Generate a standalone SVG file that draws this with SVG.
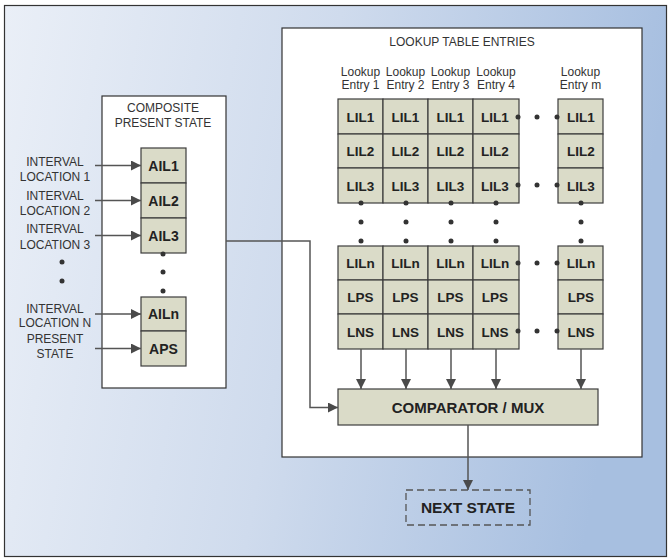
<svg xmlns="http://www.w3.org/2000/svg" width="668" height="559" viewBox="0 0 668 559">
<defs>
<linearGradient id="bg" x1="0" y1="0" x2="1" y2="0.15">
<stop offset="0" stop-color="#eaeff7"/>
<stop offset="0.5" stop-color="#cfdbed"/>
<stop offset="1" stop-color="#a7bfe0"/>
</linearGradient>
<marker id="ah" viewBox="0 0 10 10" refX="10" refY="5" markerWidth="11" markerHeight="10" markerUnits="userSpaceOnUse" orient="auto">
<path d="M0,0 L10,5 L0,10 z" fill="#4a4a4a"/>
</marker>
<style>
.lbl{font-family:"Liberation Sans",Arial,sans-serif;font-size:12px;fill:#333;text-anchor:middle}
.cell{fill:#dadbc8;stroke:#3c3c3c;stroke-width:1.2}
.ct{font-family:"Liberation Sans",Arial,sans-serif;font-size:13.5px;font-weight:bold;fill:#222;text-anchor:middle}
.at{font-family:"Liberation Sans",Arial,sans-serif;font-size:14px;font-weight:bold;fill:#222;text-anchor:middle}
.box{fill:#fff;stroke:#333;stroke-width:1.2}
.ln{fill:none;stroke:#555;stroke-width:1.5}
.dot{fill:#333}
</style>
</defs>
<rect x="4.5" y="5.5" width="662" height="551" fill="url(#bg)" stroke="#333" stroke-width="1.2"/>

<g id="composite">
<rect class="box" x="102" y="96" width="124" height="292"/>
<text class="lbl" x="163" y="112">COMPOSITE</text>
<text class="lbl" x="163" y="127">PRESENT STATE</text>
<rect class="cell" x="141" y="148" width="45" height="35"/>
<rect class="cell" x="141" y="183" width="45" height="35"/>
<rect class="cell" x="141" y="218" width="45" height="35"/>
<text class="at" x="163.5" y="170.5">AIL1</text>
<text class="at" x="163.5" y="205.5">AIL2</text>
<text class="at" x="163.5" y="240.5">AIL3</text>
<circle class="dot" cx="163" cy="254" r="2.5"/>
<circle class="dot" cx="163" cy="272" r="2.5"/>
<circle class="dot" cx="163" cy="291" r="2.5"/>
<rect class="cell" x="141" y="297" width="45" height="34"/>
<rect class="cell" x="141" y="331" width="45" height="35"/>
<text class="at" x="163.5" y="319">AILn</text>
<text class="at" x="163.5" y="353.5">APS</text>
</g>

<g id="inputs">
<text class="lbl" x="55" y="166">INTERVAL</text>
<text class="lbl" x="55" y="181">LOCATION 1</text>
<text class="lbl" x="55" y="200">INTERVAL</text>
<text class="lbl" x="55" y="215">LOCATION 2</text>
<text class="lbl" x="55" y="233">INTERVAL</text>
<text class="lbl" x="55" y="249">LOCATION 3</text>
<circle class="dot" cx="62" cy="262" r="2.5"/>
<circle class="dot" cx="62" cy="281" r="2.5"/>
<text class="lbl" x="55" y="313">INTERVAL</text>
<text class="lbl" x="55" y="327">LOCATION N</text>
<text class="lbl" x="55" y="343">PRESENT</text>
<text class="lbl" x="55" y="358">STATE</text>
</g>

<g id="lookup">
<rect class="box" x="282" y="28" width="360" height="429"/>
<text class="lbl" x="462" y="46">LOOKUP TABLE ENTRIES</text>
<text class="lbl" x="360.5" y="76">Lookup</text>
<text class="lbl" x="360.5" y="89">Entry 1</text>
<text class="lbl" x="405.5" y="76">Lookup</text>
<text class="lbl" x="405.5" y="89">Entry 2</text>
<text class="lbl" x="450.5" y="76">Lookup</text>
<text class="lbl" x="450.5" y="89">Entry 3</text>
<text class="lbl" x="496" y="76">Lookup</text>
<text class="lbl" x="496" y="89">Entry 4</text>
<text class="lbl" x="580.5" y="76">Lookup</text>
<text class="lbl" x="580.5" y="89">Entry m</text>
</g>

<g id="table-upper">
<g id="col1u">
<rect class="cell" x="338" y="99" width="45" height="35"/><rect class="cell" x="338" y="134" width="45" height="34"/><rect class="cell" x="338" y="168" width="45" height="35"/>
<text class="ct" x="360.5" y="121.5">LIL1</text><text class="ct" x="360.5" y="156">LIL2</text><text class="ct" x="360.5" y="190.5">LIL3</text>
</g>
<g id="col2u">
<rect class="cell" x="383" y="99" width="45" height="35"/><rect class="cell" x="383" y="134" width="45" height="34"/><rect class="cell" x="383" y="168" width="45" height="35"/>
<text class="ct" x="405.5" y="121.5">LIL1</text><text class="ct" x="405.5" y="156">LIL2</text><text class="ct" x="405.5" y="190.5">LIL3</text>
</g>
<g id="col3u">
<rect class="cell" x="428" y="99" width="45" height="35"/><rect class="cell" x="428" y="134" width="45" height="34"/><rect class="cell" x="428" y="168" width="45" height="35"/>
<text class="ct" x="450.5" y="121.5">LIL1</text><text class="ct" x="450.5" y="156">LIL2</text><text class="ct" x="450.5" y="190.5">LIL3</text>
</g>
<g id="col4u">
<rect class="cell" x="473" y="99" width="46" height="35"/><rect class="cell" x="473" y="134" width="46" height="34"/><rect class="cell" x="473" y="168" width="46" height="35"/>
<text class="ct" x="495" y="121.5">LIL1</text><text class="ct" x="495" y="156">LIL2</text><text class="ct" x="495" y="190.5">LIL3</text>
</g>
<g id="colmu">
<rect class="cell" x="558" y="99" width="45" height="35"/><rect class="cell" x="558" y="134" width="45" height="34"/><rect class="cell" x="558" y="168" width="45" height="35"/>
<text class="ct" x="581" y="121.5">LIL1</text><text class="ct" x="581" y="156">LIL2</text><text class="ct" x="581" y="190.5">LIL3</text>
</g>
</g>

<g id="table-lower">
<g id="col1l">
<rect class="cell" x="338" y="246" width="45" height="34"/><rect class="cell" x="338" y="280" width="45" height="34"/><rect class="cell" x="338" y="314" width="45" height="35"/>
<text class="ct" x="360.5" y="268">LILn</text><text class="ct" x="360.5" y="302">LPS</text><text class="ct" x="360.5" y="336.5">LNS</text>
</g>
<g id="col2l">
<rect class="cell" x="383" y="246" width="45" height="34"/><rect class="cell" x="383" y="280" width="45" height="34"/><rect class="cell" x="383" y="314" width="45" height="35"/>
<text class="ct" x="405.5" y="268">LILn</text><text class="ct" x="405.5" y="302">LPS</text><text class="ct" x="405.5" y="336.5">LNS</text>
</g>
<g id="col3l">
<rect class="cell" x="428" y="246" width="45" height="34"/><rect class="cell" x="428" y="280" width="45" height="34"/><rect class="cell" x="428" y="314" width="45" height="35"/>
<text class="ct" x="450.5" y="268">LILn</text><text class="ct" x="450.5" y="302">LPS</text><text class="ct" x="450.5" y="336.5">LNS</text>
</g>
<g id="col4l">
<rect class="cell" x="473" y="246" width="46" height="34"/><rect class="cell" x="473" y="280" width="46" height="34"/><rect class="cell" x="473" y="314" width="46" height="35"/>
<text class="ct" x="495" y="268">LILn</text><text class="ct" x="495" y="302">LPS</text><text class="ct" x="495" y="336.5">LNS</text>
</g>
<g id="colml">
<rect class="cell" x="558" y="246" width="45" height="34"/><rect class="cell" x="558" y="280" width="45" height="34"/><rect class="cell" x="558" y="314" width="45" height="35"/>
<text class="ct" x="581" y="268">LILn</text><text class="ct" x="581" y="302">LPS</text><text class="ct" x="581" y="336.5">LNS</text>
</g>
</g>

<g id="ellipses">
<circle class="dot" cx="518" cy="117" r="2.5"/><circle class="dot" cx="537" cy="117" r="2.5"/><circle class="dot" cx="557" cy="117" r="2.5"/>
<circle class="dot" cx="518" cy="185" r="2.5"/><circle class="dot" cx="537" cy="185" r="2.5"/><circle class="dot" cx="557" cy="185" r="2.5"/>
<circle class="dot" cx="518" cy="263" r="2.5"/><circle class="dot" cx="537" cy="263" r="2.5"/><circle class="dot" cx="557" cy="263" r="2.5"/>
<circle class="dot" cx="518" cy="331" r="2.5"/><circle class="dot" cx="537" cy="331" r="2.5"/><circle class="dot" cx="557" cy="331" r="2.5"/>
<circle class="dot" cx="361" cy="203" r="2.5"/><circle class="dot" cx="361" cy="222" r="2.5"/><circle class="dot" cx="361" cy="241" r="2.5"/>
<circle class="dot" cx="406" cy="203" r="2.5"/><circle class="dot" cx="406" cy="222" r="2.5"/><circle class="dot" cx="406" cy="241" r="2.5"/>
<circle class="dot" cx="451" cy="203" r="2.5"/><circle class="dot" cx="451" cy="222" r="2.5"/><circle class="dot" cx="451" cy="241" r="2.5"/>
<circle class="dot" cx="496" cy="203" r="2.5"/><circle class="dot" cx="496" cy="222" r="2.5"/><circle class="dot" cx="496" cy="241" r="2.5"/>
<circle class="dot" cx="581" cy="203" r="2.5"/><circle class="dot" cx="581" cy="222" r="2.5"/><circle class="dot" cx="581" cy="241" r="2.5"/>
</g>

<g id="comparator">
<rect class="cell" x="338" y="389" width="260" height="36"/>
<text class="ct" x="468" y="412.5" style="font-size:15px">COMPARATOR / MUX</text>
</g>

<g id="next-state">
<rect x="406" y="490" width="124" height="35" fill="none" stroke="#555" stroke-width="1.3" stroke-dasharray="7,4"/>
<text class="ct" x="468" y="512.5" style="font-size:15.5px">NEXT STATE</text>
</g>

<g id="connectors">
<line class="ln" x1="95" y1="165.5" x2="141" y2="165.5" marker-end="url(#ah)"/>
<line class="ln" x1="95" y1="200.5" x2="141" y2="200.5" marker-end="url(#ah)"/>
<line class="ln" x1="95" y1="235.5" x2="141" y2="235.5" marker-end="url(#ah)"/>
<line class="ln" x1="95" y1="314" x2="141" y2="314" marker-end="url(#ah)"/>
<line class="ln" x1="95" y1="348.5" x2="141" y2="348.5" marker-end="url(#ah)"/>
<polyline class="ln" points="226,241 310,241 310,407.5 338,407.5" marker-end="url(#ah)"/>
<line class="ln" x1="361" y1="349" x2="361" y2="389" marker-end="url(#ah)"/>
<line class="ln" x1="406" y1="349" x2="406" y2="389" marker-end="url(#ah)"/>
<line class="ln" x1="451" y1="349" x2="451" y2="389" marker-end="url(#ah)"/>
<line class="ln" x1="496" y1="349" x2="496" y2="389" marker-end="url(#ah)"/>
<line class="ln" x1="581" y1="349" x2="581" y2="389" marker-end="url(#ah)"/>
<line class="ln" x1="468" y1="425" x2="468" y2="490" marker-end="url(#ah)"/>
</g>
</svg>
